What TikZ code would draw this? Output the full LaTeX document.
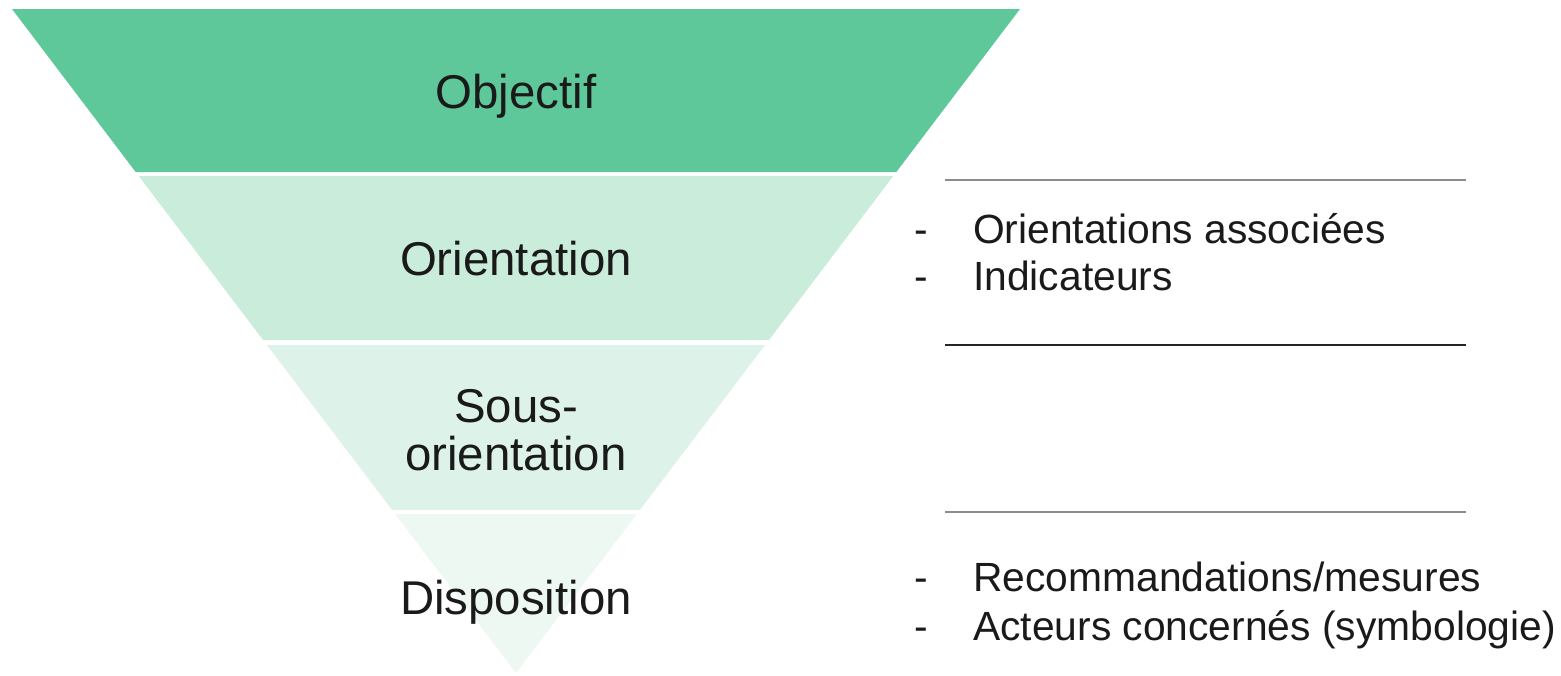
\documentclass[tikz,border=0pt]{standalone}
\usepackage{fontspec}
\setmainfont{Liberation Sans}
\definecolor{bandA}{HTML}{5EC89A}
\definecolor{bandB}{HTML}{C9ECDB}
\definecolor{bandC}{HTML}{DDF3E9}
\definecolor{bandD}{HTML}{EEF8F3}
\definecolor{txt}{HTML}{1A1A1A}
\tikzset{
  band/.style={draw=none},
  lvl/.style={text=txt, font=\fontsize{47.4}{48}\selectfont, align=center, inner sep=0pt},
  item/.style={text=txt, font=\fontsize{40.8}{48}\selectfont, anchor=base west, inner sep=0pt},
  dashmark/.style={text=txt, font=\fontsize{40.8}{48}\selectfont, anchor=base, inner sep=0pt},
  rulegray/.style={draw=gray!90, line width=1.6pt},
  ruledark/.style={draw=black!85, line width=2.2pt}
}
\begin{document}
\begin{tikzpicture}[x=1pt,y=-1pt]
\useasboundingbox (0,0) rectangle (1561,675);
% bands of the inverted triangle
\fill[band, bandA] (12,9) -- (1020,9) -- (896.3,172) -- (135.7,172) -- cycle;
\fill[band, bandB] (138.7,176) -- (893.3,176) -- (768.9,340) -- (263.1,340) -- cycle;
\fill[band, bandC] (266.9,345) -- (765.1,345) -- (639.9,510) -- (392.1,510) -- cycle;
\fill[band, bandD] (395.1,514) -- (636.9,514) -- (516,673) -- cycle;
% level labels
\node[lvl, anchor=base] (obj) at (516,108) {Objectif};
\node[lvl, anchor=base] (ori) at (516,275) {Orientation};
\node[lvl, anchor=base] (sous1) at (516,422) {Sous-};
\node[lvl, anchor=base] (sous2) at (516,470) {orientation};
\node[lvl, anchor=base] (dis) at (516,614) {Disposition};
% separator rules
\coordinate (r1a) at (945,180); \coordinate (r1b) at (1466,180);
\coordinate (r2a) at (945,345); \coordinate (r2b) at (1466,345);
\coordinate (r3a) at (945,512); \coordinate (r3b) at (1466,512);
\draw[rulegray] (r1a) -- (r1b);
\draw[ruledark] (r2a) -- (r2b);
\draw[rulegray] (r3a) -- (r3b);
% lists
\node[dashmark] (d1) at (921,243) {-};
\node[item] (t1) at (973,243) {Orientations associées};
\node[dashmark] (d2) at (921,290) {-};
\node[item] (t2) at (973,290) {Indicateurs};
\node[dashmark] (d3) at (921,591) {-};
\node[item] (t3) at (973,591) {Recommandations/mesures};
\node[dashmark] (d4) at (921,640) {-};
\node[item] (t4) at (973,640) {Acteurs concernés (symbologie)};
\end{tikzpicture}
\end{document}
